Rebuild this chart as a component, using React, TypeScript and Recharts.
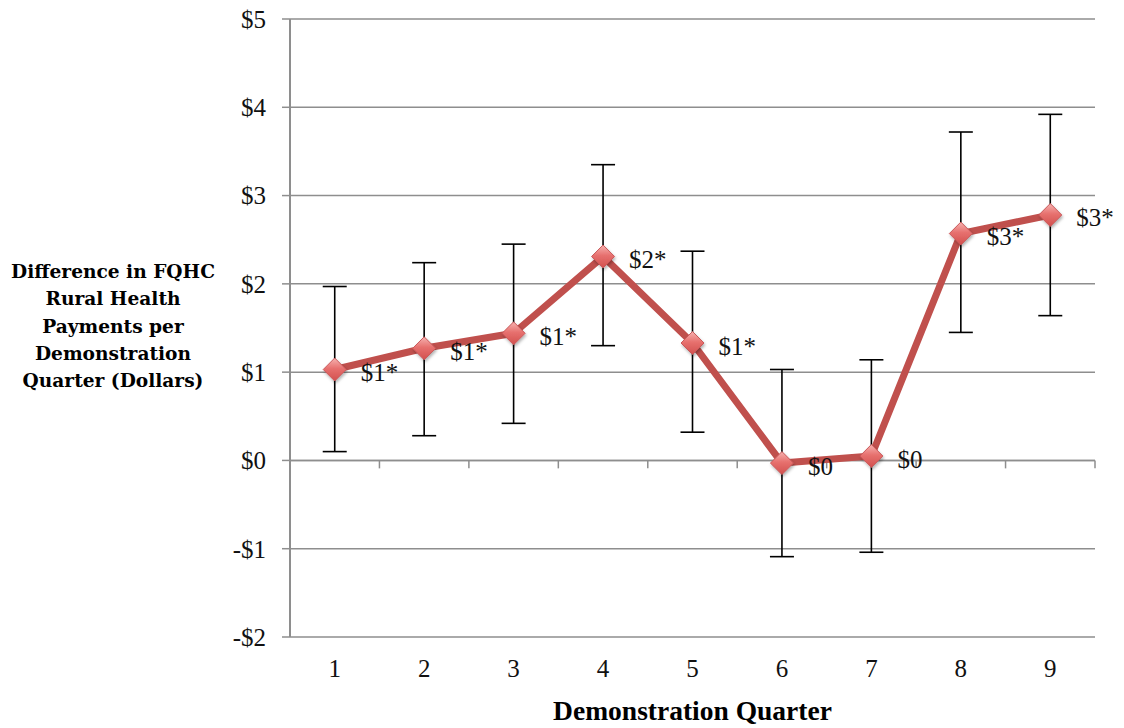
import React from "react";
import {
  LineChart,
  Line,
  XAxis,
  YAxis,
  CartesianGrid,
  ErrorBar,
  ReferenceLine,
  LabelList,
} from "recharts";

const quarters = [1, 2, 3, 4, 5, 6, 7, 8, 9];
const estimates = [1.03, 1.27, 1.44, 2.31, 1.33, -0.03, 0.05, 2.57, 2.78];
const lowerBounds = [0.1, 0.28, 0.42, 1.3, 0.32, -1.09, -1.04, 1.45, 1.64];
const upperBounds = [1.97, 2.24, 2.45, 3.35, 2.37, 1.03, 1.14, 3.72, 3.92];
const pointLabels = ["$1*", "$1*", "$1*", "$2*", "$1*", "$0", "$0", "$3*", "$3*"];
const yTicks = [-2, -1, 0, 1, 2, 3, 4, 5];
const yTickLabels = ["-$2", "-$1", "$0", "$1", "$2", "$3", "$4", "$5"];
const bandEdges = [0.5, 1.5, 2.5, 3.5, 4.5, 5.5, 6.5, 7.5, 8.5, 9.5];
const yTitleLines = [
  "Difference in FQHC",
  "Rural Health",
  "Payments per",
  "Demonstration",
  "Quarter (Dollars)",
];

const data = quarters.map((q, i) => ({
  q,
  value: estimates[i],
  err: [estimates[i] - lowerBounds[i], upperBounds[i] - estimates[i]],
  label: pointLabels[i],
}));

const serif = "'Liberation Serif', 'DejaVu Serif', serif";

const Diamond = (props: any) => {
  const { cx, cy } = props;
  if (cx == null || cy == null) return null;
  const r = 11.5;
  return (
    <g filter="url(#dshadow)">
      <polygon
        points={`${cx},${cy - r} ${cx + r},${cy} ${cx},${cy + r} ${cx - r},${cy}`}
        fill="url(#dgrad)"
        stroke="#C9585A"
        strokeWidth={1}
      />
    </g>
  );
};

const PointLabel = (props: any) => {
  const { x, y, value } = props;
  return (
    <text
      x={x + 26}
      y={y + 3}
      fontFamily={serif}
      fontSize={25}
      fill="#111"
      dominantBaseline="central"
    >
      {value}
    </text>
  );
};

const YTitle = (props: any) => {
  const vb = props.viewBox || {};
  const cy = (vb.y ?? 19) + (vb.height ?? 618) / 2 - 2;
  const cx = 113;
  const lh = 27.3;
  return (
    <text
      x={cx}
      y={cy}
      textAnchor="middle"
      fontFamily="'DejaVu Serif', serif"
      fontWeight="bold"
      fontSize={18.6}
      fill="#000"
    >
      {yTitleLines.map((l, i) => (
        <tspan key={i} x={cx} y={cy + (i - 2) * lh} dominantBaseline="central">
          {l}
        </tspan>
      ))}
    </text>
  );
};

export default function App() {
  return (
    <div style={{ position: "absolute", left: 0, top: 0, background: "#fff" }}>
      <LineChart
        width={1124}
        height={728}
        data={data}
        margin={{ top: 19, right: 29, bottom: 0, left: 0 }}
      >
        <defs>
          <linearGradient id="dgrad" x1="0" y1="0" x2="0" y2="1">
            <stop offset="0%" stopColor="#F6B3B1" />
            <stop offset="45%" stopColor="#E7716F" />
            <stop offset="100%" stopColor="#D2504E" />
          </linearGradient>
          <filter id="dshadow" x="-50%" y="-50%" width="200%" height="200%">
            <feDropShadow dx="1" dy="2" stdDeviation="1.5" floodColor="#000" floodOpacity="0.3" />
          </filter>
        </defs>
        <CartesianGrid vertical={false} stroke="#8E8E8E" strokeWidth={1.5} />
        <XAxis
          dataKey="q"
          type="number"
          domain={[0.5, 9.5]}
          ticks={quarters}
          allowDataOverflow
          axisLine={false}
          tickLine={false}
          height={91}
          tickMargin={16}
          tick={{ fontFamily: serif, fontSize: 25, fill: "#111" }}
          label={{
            value: "Demonstration Quarter",
            position: "insideBottom",
            offset: 8,
            style: { fontFamily: serif, fontSize: 27.5, fontWeight: "bold", fill: "#000" },
          }}
        />
        <YAxis
          type="number"
          domain={[-2, 5]}
          ticks={yTicks}
          interval={0}
          width={290}
          axisLine={{ stroke: "#8E8E8E", strokeWidth: 2 }}
          tickLine={{ stroke: "#8E8E8E", strokeWidth: 1.5 }}
          tickSize={8}
          tickMargin={16}
          tickFormatter={(v: number) => yTickLabels[yTicks.indexOf(v)]}
          tick={{ fontFamily: serif, fontSize: 25, fill: "#111" }}
          label={<YTitle />}
        />
        <ReferenceLine y={0} stroke="#8E8E8E" strokeWidth={1.5} />
        {bandEdges.map((b) => (
          <ReferenceLine
            key={b}
            segment={[
              { x: b, y: 0 },
              { x: b, y: -0.09 },
            ]}
            stroke="#8E8E8E"
            strokeWidth={1.5}
            ifOverflow="visible"
          />
        ))}
        <Line
          dataKey="value"
          stroke="#C0504D"
          strokeWidth={7}
          isAnimationActive={false}
          dot={<Diamond />}
          activeDot={false}
        >
          <ErrorBar dataKey="err" width={12} stroke="#000" strokeWidth={1.6} direction="y" />
          <LabelList dataKey="label" content={<PointLabel />} />
        </Line>
      </LineChart>
    </div>
  );
}
